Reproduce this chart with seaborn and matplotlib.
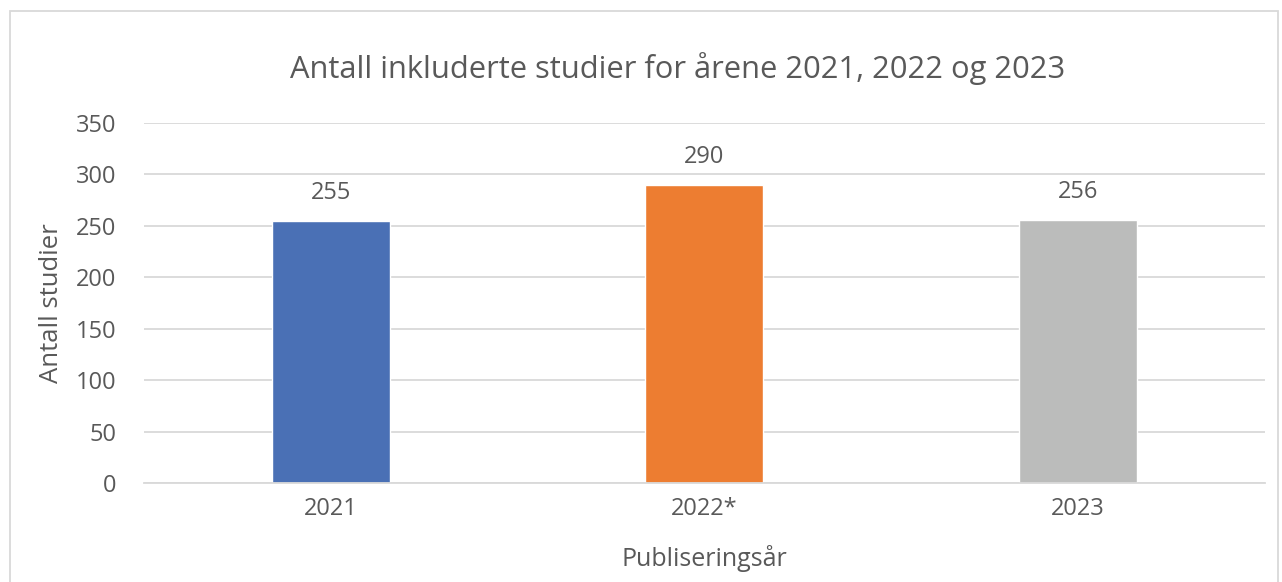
import numpy as np
import pandas as pd
import seaborn as sns
import matplotlib.pyplot as plt
from matplotlib.patches import Rectangle

# data
years = ["2021", "2022*", "2023"]
studies = [255, 290, 256]
bar_colors = ["#4A70B5", "#ED7D31", "#BBBCBB"]

df = pd.DataFrame({"year": years, "studies": studies})

sns.set_theme(style="white")
plt.rcParams["font.family"] = ["Open Sans", "DejaVu Sans"]
text_col = "#595959"

fig = plt.figure(figsize=(12.82, 5.82), dpi=100)
ax = fig.add_axes([0.1123, 0.170, 0.8744, 0.6187])

sns.barplot(data=df, x="year", y="studies", hue="year", palette=bar_colors,
            width=0.316, saturation=1, legend=False, ax=ax)

# verdier over søylene
for i, v in enumerate(studies):
    ax.annotate(str(v), (i, v), xytext=(0, 20), textcoords="offset points",
                ha="center", va="center", fontsize=17, color=text_col)

ax.set_ylim(0, 350)
ax.set_xlim(-0.5, 2.5)
ax.set_yticks(range(0, 351, 50))
ax.yaxis.grid(True, color="#D9D9D9", linewidth=1.3)
ax.set_axisbelow(True)
for s in ["top", "right", "left"]:
    ax.spines[s].set_visible(False)
ax.spines["bottom"].set_color("#D9D9D9")
ax.spines["bottom"].set_linewidth(1.3)
ax.tick_params(axis="both", length=0, labelsize=17, labelcolor=text_col)
ax.tick_params(axis="y", pad=20)
ax.tick_params(axis="x", pad=10)

ax.set_xlabel("Publiseringsår", fontsize=18, color=text_col, labelpad=17)
ax.set_ylabel("Antall studier", fontsize=18.5, color=text_col, labelpad=8)
fig.text(0.5285, 0.883, "Antall inkluderte studier for årene 2021, 2022 og 2023",
         ha="center", va="center", fontsize=22.2, color=text_col)

# ramme rundt hele figuren
fig.patches.append(Rectangle((0.008, -0.05), 0.989, 1.031, transform=fig.transFigure,
                             fill=False, edgecolor="#D9D9D9", linewidth=1.3))

fig.savefig("out.png", dpi=100)
